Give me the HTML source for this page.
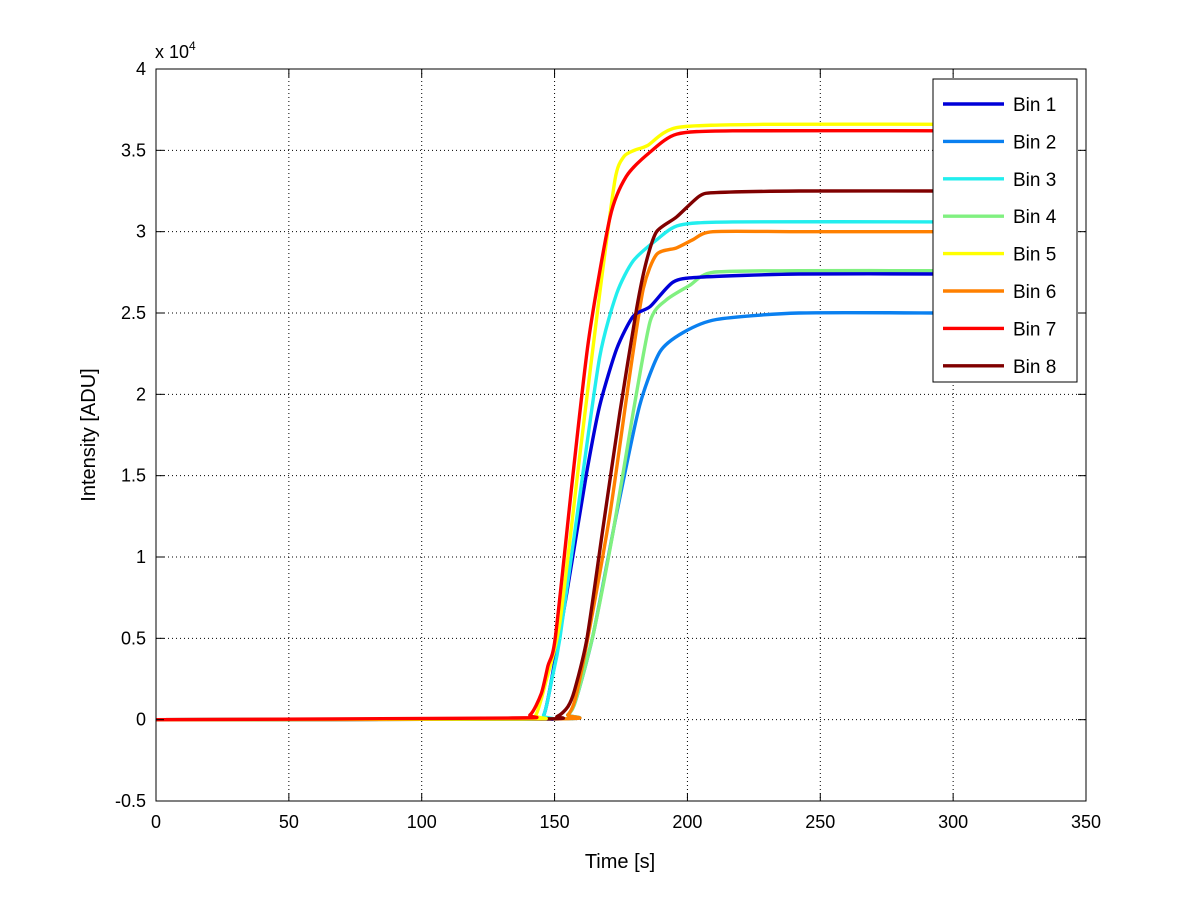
<!DOCTYPE html>
<html><head><meta charset="utf-8"><style>
body{margin:0;background:#fff;}
svg{display:block;font-family:"Liberation Sans",sans-serif;}
</style></head><body>
<svg id="chart" width="1200" height="901" viewBox="0 0 1200 901">
<rect x="0" y="0" width="1200" height="901" fill="#fff"/>
<g id="grid"></g>
<g id="series"></g>
<rect x="156" y="69" width="930" height="732" fill="none" stroke="#000" stroke-width="1"/>
<g id="ticks"></g>
<text x="155" y="58" font-size="18">x 10<tspan dy="-8" font-size="12">4</tspan></text>
<text x="620" y="868" font-size="20" text-anchor="middle">Time [s]</text>
<text transform="translate(95,435) rotate(-90)" font-size="20" text-anchor="middle">Intensity [ADU]</text>
<g id="legend"></g>
</svg>
<script>
const xTicks=[0,50,100,150,200,250,300,350];
const yTicks=[-0.5,0,0.5,1,1.5,2,2.5,3,3.5,4];
const yTickLabels=["-0.5","0","0.5","1","1.5","2","2.5","3","3.5","4"];
const seriesNames=["Bin 1","Bin 2","Bin 3","Bin 4","Bin 5","Bin 6","Bin 7","Bin 8"];
const seriesColors=["#0000d8","#0a80f0","#22eeee","#80f080","#ffff00","#ff8000","#ff0000","#800000"];
const bin1=[[0,0],[140,0.005],[146,0.03],[150,0.35],[154.6,0.78],[162.1,1.52],[167,1.93],[173.4,2.28],[179.6,2.48],[186,2.54],[194.6,2.69],[204.6,2.72],[242,2.74],[297,2.74]];
const bin2=[[0,0],[150,0.005],[155,0.03],[158,0.12],[164.6,0.53],[173.4,1.27],[182,1.93],[189.6,2.26],[198.4,2.38],[210.9,2.46],[242,2.5],[297,2.5]];
const bin3=[[0,0],[140,0.005],[145.9,0.03],[149,0.25],[152,0.5],[159.6,1.39],[167,2.23],[173.4,2.62],[179.6,2.82],[188.4,2.95],[197,3.04],[217,3.06],[297,3.06]];
const bin4=[[0,0],[150,0.005],[155,0.03],[158,0.12],[164.6,0.53],[172,1.15],[179.6,1.89],[186,2.45],[192,2.58],[200.9,2.67],[209.6,2.75],[242,2.76],[297,2.76]];
const bin5=[[0,0],[138,0.005],[143,0.03],[147,0.25],[152,0.6],[159.6,1.64],[167,2.62],[172.75,3.32],[176,3.46],[180,3.5],[185,3.53],[196,3.64],[230,3.66],[297,3.66]];
const bin6=[[0,0],[150,0.005],[155,0.03],[158,0.14],[163.4,0.58],[170.9,1.27],[178.4,2.13],[183.4,2.65],[188.4,2.86],[195.9,2.9],[202,2.95],[209.6,3.0],[242,3.0],[297,3.0]];
const bin7=[[0,0],[134,0.01],[140.8,0.03],[145,0.16],[147.5,0.33],[150.25,0.5],[156.5,1.44],[162.75,2.33],[170.9,3.09],[177,3.34],[186,3.49],[196,3.6],[217,3.62],[297,3.62]];
const bin8=[[0,0],[143,0.005],[151,0.02],[155,0.08],[157.5,0.18],[162.2,0.5],[168.4,1.2],[174.6,1.89],[180.9,2.53],[184.6,2.82],[188.4,3.0],[195.9,3.09],[204.6,3.22],[210.9,3.24],[242,3.25],[297,3.25]];
const allSeries=[bin1,bin2,bin3,bin4,bin5,bin6,bin7,bin8];
const drawOrder=[1,3,5,0,2,7,4,6];
const NS="http://www.w3.org/2000/svg";
const X0=156,X1=1086,Y0=801,Y1=69;
function xs(t){return X0+(t-0)/(350-0)*(X1-X0);}
function ys(v){return Y0-(v+0.5)/(4.5)*(Y0-Y1);}
function mk(tag,attrs,parent){const e=document.createElementNS(NS,tag);for(const k in attrs)e.setAttribute(k,attrs[k]);parent.appendChild(e);return e;}
function smoothPath(pts){
  const P=pts.map(p=>[xs(p[0]),ys(p[1])]);
  let d='M'+P[0][0].toFixed(1)+','+P[0][1].toFixed(1);
  for(let i=0;i<P.length-1;i++){
    const p0=P[Math.max(0,i-1)],p1=P[i],p2=P[i+1],p3=P[Math.min(P.length-1,i+2)];
    const k=0.12;
    const c1=[p1[0]+(p2[0]-p0[0])*k,p1[1]+(p2[1]-p0[1])*k];
    const c2=[p2[0]-(p3[0]-p1[0])*k,p2[1]-(p3[1]-p1[1])*k];
    d+=' C'+c1[0].toFixed(1)+','+c1[1].toFixed(1)+' '+c2[0].toFixed(1)+','+c2[1].toFixed(1)+' '+p2[0].toFixed(1)+','+p2[1].toFixed(1);
  }
  return d;
}
const grid=document.getElementById('grid'),ticks=document.getElementById('ticks');
xTicks.forEach((t,i)=>{
  const x=xs(t);
  if(i>0&&i<xTicks.length-1){const g=mk('line',{x1:x,y1:Y1,x2:x,y2:Y0,stroke:'#000','stroke-width':1,'stroke-dasharray':'1,3'},grid);
  
  }
  mk('line',{x1:x,y1:Y0,x2:x,y2:Y0-8,stroke:'#000'},ticks);
  mk('line',{x1:x,y1:Y1,x2:x,y2:Y1+8,stroke:'#000'},ticks);
  const tx=mk('text',{x:x,y:Y0+27,'font-size':18,'text-anchor':'middle'},ticks);
  tx.textContent=String(t);
  
  
});
yTicks.forEach((v,i)=>{
  const y=ys(v);
  if(i>0&&i<yTicks.length-1){const g=mk('line',{x1:X0,y1:y,x2:X1,y2:y,stroke:'#000','stroke-width':1,'stroke-dasharray':'1,3'},grid);
  
  }
  mk('line',{x1:X0,y1:y,x2:X0+8,y2:y,stroke:'#000'},ticks);
  mk('line',{x1:X1,y1:y,x2:X1-8,y2:y,stroke:'#000'},ticks);
  const tx=mk('text',{x:X0-10,y:y+6,'font-size':18,'text-anchor':'end'},ticks);
  tx.textContent=yTickLabels[i];
  
  
});
const sg=document.getElementById('series');
drawOrder.forEach(i=>{
  const p=mk('path',{d:smoothPath(allSeries[i]),fill:'none',stroke:seriesColors[i],'stroke-width':3.4,'stroke-linejoin':'round'},sg);
  
  
});
const lg=document.getElementById('legend');
const box=mk('rect',{x:933,y:79,width:144,height:303,fill:'#fff',stroke:'#000'},lg);


seriesNames.forEach((n,i)=>{
  const y=104+i*37.4;
  const l=mk('line',{x1:943,y1:y,x2:1004,y2:y,stroke:seriesColors[i],'stroke-width':3.4},lg);
  
  
  const t=mk('text',{x:1013,y:y+7,'font-size':19},lg);
  t.textContent=n;
  
  
});
</script>
</body></html>
